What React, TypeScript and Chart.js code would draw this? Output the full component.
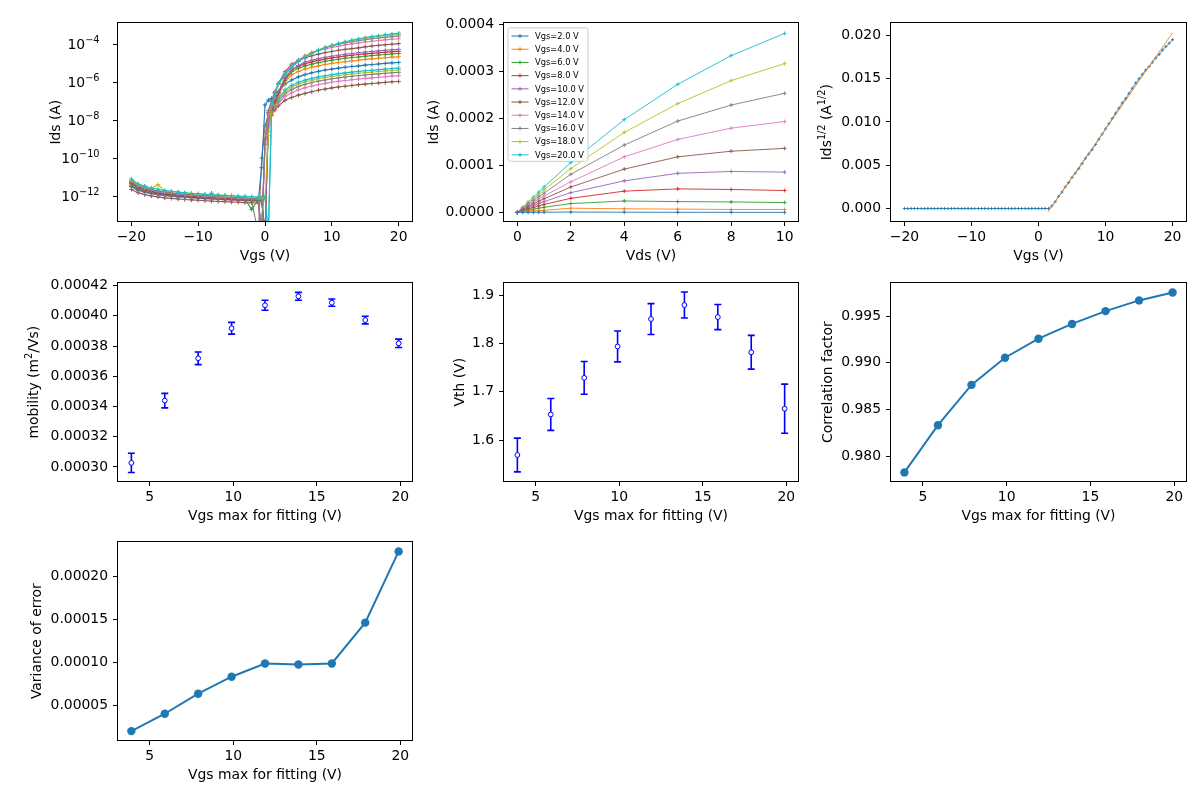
import { useEffect, useRef } from "react";
import { Chart, registerables } from "chart.js";

Chart.register(...registerables);

const FAMILY = "'DejaVu Sans', sans-serif";
const FS = 13.9;

// tab10 palette
const C_BLUE = "#1f77b4";
const C_ORANGE = "#ff7f0e";
const C_GREEN = "#2ca02c";
const C_RED = "#d62728";
const C_PURPLE = "#9467bd";
const C_BROWN = "#8c564b";
const C_PINK = "#e377c2";
const C_GRAY = "#7f7f7f";
const C_OLIVE = "#bcbd22";
const C_CYAN = "#17becf";

// ---------- Transfer curves: log10(Ids / A) versus Vgs ----------
const VGS_TRANSFER = [
  -20, -19, -18, -17, -16, -15, -14, -13, -12, -11,
  -10, -9, -8, -7, -6, -5, -4, -3, -2, -1,
  -0.5, 0, 0.5, 1, 1.5,
  2, 3, 4, 5, 6, 7, 8, 9, 10, 11, 12, 13, 14, 15, 16, 17, 18, 19, 20,
];

const LOG_IDS_VDS10 = [
  -11.10, -11.36, -11.47, -11.58, -11.64, -11.71, -11.74, -11.79, -11.82, -11.86,
  -11.87, -11.91, -11.92, -11.95, -11.96, -11.98, -12.00, -12.01, -12.03, -12.05,
  -12.08, -12.05, -14.0, -7.2, -6.6,
  -6.1, -5.6, -5.2, -4.91, -4.68, -4.49, -4.33, -4.19, -4.07, -3.96, -3.87, -3.79, -3.71, -3.65, -3.60, -3.55, -3.50, -3.46, -3.42,
];
const LOG_IDS_VDS8 = [
  -11.15, -11.38, -11.50, -11.57, -11.40, -11.72, -11.76, -11.78, -11.84, -11.85,
  -11.89, -11.90, -11.94, -11.93, -11.98, -11.99, -12.02, -12.03, -12.04, -12.07,
  -12.10, -12.10, -8.8, -7.2, -6.6,
  -6.1, -5.6, -5.2, -4.9, -4.65, -4.46, -4.31, -4.18, -4.06, -3.97, -3.89, -3.82, -3.75, -3.69, -3.64, -3.59, -3.55, -3.51, -3.48,
];
const LOG_IDS_VDS6 = [
  -11.20, -11.42, -11.55, -11.66, -11.73, -11.77, -11.83, -11.86, -11.90, -11.92,
  -11.96, -11.97, -12.00, -12.02, -12.03, -12.06, -12.07, -12.09, -12.12, -12.15,
  -14.0, -9.0, -7.5, -7.0, -6.55,
  -6.1, -5.58, -5.15, -4.86, -4.64, -4.45, -4.30, -4.18, -4.08, -4.00, -3.93, -3.87, -3.81, -3.76, -3.71, -3.67, -3.64, -3.60, -3.57,
];
const LOG_IDS_VDS4 = [
  -11.22, -11.45, -11.58, -11.67, -11.75, -11.79, -11.85, -11.88, -11.92, -11.95,
  -11.97, -12.00, -12.02, -12.05, -12.06, -12.08, -12.10, -12.12, -12.13, -12.15,
  -14.0, -9.5, -7.7, -7.1, -6.55,
  -6.1, -5.55, -5.11, -4.83, -4.61, -4.46, -4.34, -4.25, -4.17, -4.10, -4.04, -3.98, -3.93, -3.88, -3.84, -3.80, -3.77, -3.74, -3.71,
];
const LOG_IDS_VDS2 = [
  -11.30, -11.55, -11.68, -11.76, -11.85, -11.90, -11.93, -11.98, -12.01, -12.05,
  -12.07, -12.10, -12.12, -12.14, -12.17, -12.18, -12.20, -12.22, -12.23, -12.26,
  -14.0, -9.2, -7.6, -7.0, -6.5,
  -6.05, -5.45, -5.05, -4.86, -4.73, -4.61, -4.52, -4.44, -4.38, -4.32, -4.27, -4.23, -4.19, -4.14, -4.09, -4.06, -4.03, -4.00, -3.97,
];
const LOG_IDS_VDS1 = [
  -11.25, -11.48, -11.60, -11.70, -11.77, -11.82, -11.86, -11.90, -11.93, -11.96,
  -11.99, -12.01, -12.03, -12.05, -12.07, -12.09, -12.10, -12.12, -12.14, -12.16,
  -12.18, -14.0, -8.0, -7.3, -6.9,
  -6.5, -5.75, -5.35, -5.12, -4.94, -4.84, -4.76, -4.69, -4.63, -4.58, -4.53, -4.49, -4.45, -4.41, -4.38, -4.35, -4.32, -4.29, -4.27,
];
const LOG_IDS_VDS08 = [
  -11.30, -11.52, -11.63, -11.72, -11.80, -11.84, -11.88, -11.92, -11.95, -11.98,
  -12.01, -12.03, -12.06, -12.07, -12.09, -12.11, -12.12, -12.14, -12.16, -12.18,
  -12.20, -14.0, -8.1, -7.4, -6.95,
  -6.55, -5.8, -5.34, -5.16, -5.03, -4.93, -4.85, -4.78, -4.72, -4.67, -4.62, -4.58, -4.54, -4.51, -4.48, -4.45, -4.42, -4.39, -4.37,
];
const LOG_IDS_VDS06 = [
  -11.32, -11.53, -11.66, -11.74, -11.81, -11.86, -11.90, -11.93, -11.96, -12.00,
  -12.02, -12.05, -11.85, -12.09, -12.10, -12.13, -12.14, -12.15, -12.70, -12.19,
  -12.20, -14.0, -8.2, -7.5, -7.0,
  -6.6, -5.9, -5.44, -5.27, -5.14, -5.05, -4.97, -4.90, -4.84, -4.79, -4.74, -4.70, -4.67, -4.63, -4.60, -4.57, -4.54, -4.51, -4.49,
];
const LOG_IDS_VDS04 = [
  -11.35, -11.56, -11.68, -11.77, -11.83, -11.88, -11.92, -11.95, -11.98, -12.01,
  -12.04, -12.06, -12.08, -12.10, -12.12, -12.14, -12.15, -12.17, -12.19, -12.20,
  -12.22, -14.0, -8.3, -7.6, -7.1,
  -6.7, -6.0, -5.6, -5.44, -5.31, -5.21, -5.14, -5.07, -5.01, -4.96, -4.92, -4.88, -4.84, -4.80, -4.77, -4.74, -4.71, -4.68, -4.66,
];
const LOG_IDS_VDS02 = [
  -11.45, -11.65, -11.76, -11.84, -11.90, -11.94, -11.98, -12.01, -12.03, -12.06,
  -12.08, -12.10, -12.12, -12.14, -12.15, -12.17, -12.18, -12.20, -12.21, -12.22,
  -10.5, -7.2, -6.95, -6.85, -6.7,
  -6.5, -6.1, -5.88, -5.72, -5.60, -5.50, -5.43, -5.36, -5.31, -5.26, -5.21, -5.17, -5.14, -5.10, -5.07, -5.04, -5.01, -4.98, -4.96,
];
const LOG_IDS_VDS01 = [
  -11.28, -11.50, -11.62, -11.71, -11.78, -11.83, -11.87, -11.90, -11.93, -11.96,
  -11.99, -12.01, -12.03, -12.05, -12.06, -12.08, -12.10, -12.11, -12.13, -12.14,
  -12.15, -12.10, -14.0, -7.5, -7.1,
  -6.85, -6.4, -6.16, -6.0, -5.89, -5.80, -5.72, -5.66, -5.60, -5.55, -5.51, -5.47, -5.43, -5.40, -5.37, -5.34, -5.31, -5.28, -5.26,
];
const LOG_IDS_VDS008 = [
  -11.40, -11.60, -11.72, -11.80, -11.86, -11.90, -11.94, -11.97, -12.00, -12.03,
  -12.05, -12.07, -12.09, -12.11, -12.13, -12.14, -12.16, -12.17, -12.19, -12.21,
  -12.22, -14.0, -8.6, -7.55, -7.15,
  -6.9, -6.5, -6.26, -6.10, -5.99, -5.90, -5.82, -5.76, -5.70, -5.65, -5.61, -5.57, -5.53, -5.50, -5.47, -5.44, -5.41, -5.38, -5.36,
];
const LOG_IDS_VDS006 = [
  -11.50, -11.68, -11.79, -11.86, -11.92, -11.96, -12.00, -12.03, -12.06, -12.08,
  -12.10, -12.13, -12.14, -12.16, -12.18, -12.19, -12.21, -12.22, -12.24, -14.0,
  -10.0, -8.3, -7.7, -7.5, -7.25,
  -7.0, -6.6, -6.38, -6.22, -6.11, -6.02, -5.94, -5.88, -5.82, -5.77, -5.73, -5.69, -5.65, -5.62, -5.59, -5.56, -5.53, -5.50, -5.48,
];
const LOG_IDS_VDS004 = [
  -11.52, -11.70, -11.80, -11.88, -11.93, -11.98, -12.02, -12.05, -12.07, -12.10,
  -12.12, -12.14, -12.16, -12.18, -12.20, -12.21, -12.23, -12.24, -12.26, -12.28,
  -14.0, -9.0, -8.0, -7.6, -7.3,
  -7.1, -6.75, -6.56, -6.40, -6.29, -6.20, -6.12, -6.06, -6.00, -5.95, -5.91, -5.87, -5.83, -5.80, -5.77, -5.74, -5.71, -5.68, -5.66,
];
const LOG_IDS_VDS002 = [
  -11.65, -11.82, -11.92, -11.99, -12.04, -12.09, -12.12, -12.15, -12.18, -12.20,
  -12.22, -12.24, -12.26, -12.28, -12.29, -12.31, -12.32, -12.34, -12.35, -12.37,
  -14.0, -9.3, -8.2, -7.75, -7.45,
  -7.25, -6.95, -6.8, -6.68, -6.59, -6.50, -6.42, -6.36, -6.30, -6.25, -6.21, -6.17, -6.13, -6.10, -6.07, -6.04, -6.01, -5.98, -5.96,
];

const TRANSFER_SERIES = [
  { color: C_CYAN, log: LOG_IDS_VDS10 },
  { color: C_OLIVE, log: LOG_IDS_VDS8 },
  { color: C_GRAY, log: LOG_IDS_VDS6 },
  { color: C_PINK, log: LOG_IDS_VDS4 },
  { color: C_BROWN, log: LOG_IDS_VDS2 },
  { color: C_PURPLE, log: LOG_IDS_VDS1 },
  { color: C_RED, log: LOG_IDS_VDS08 },
  { color: C_GREEN, log: LOG_IDS_VDS06 },
  { color: C_ORANGE, log: LOG_IDS_VDS04 },
  { color: C_BLUE, log: LOG_IDS_VDS02 },
  { color: C_CYAN, log: LOG_IDS_VDS01 },
  { color: C_OLIVE, log: LOG_IDS_VDS008 },
  { color: C_GRAY, log: LOG_IDS_VDS006 },
  { color: C_PINK, log: LOG_IDS_VDS004 },
  { color: C_BROWN, log: LOG_IDS_VDS002 },
];

// ---------- Output curves: Ids (A) versus Vds ----------
const VDS_OUTPUT = [0, 0.2, 0.4, 0.6, 0.8, 1.0, 2, 4, 6, 8, 10];
const IDS_VGS2 = [0, 1e-7, 2e-7, 3e-7, 4e-7, 5e-7, 8e-7, 5e-7, 3e-7, 2e-7, 1e-7];
const IDS_VGS4 = [0, 1.3e-6, 2.5e-6, 3.3e-6, 4.0e-6, 4.5e-6, 9.0e-6, 7.7e-6, 7.0e-6, 6.3e-6, 6.3e-6];
const IDS_VGS6 = [0, 2.5e-6, 4.9e-6, 7.0e-6, 9.0e-6, 1.1e-5, 1.88e-5, 2.43e-5, 2.30e-5, 2.23e-5, 2.09e-5];
const IDS_VGS8 = [0, 3.7e-6, 7.3e-6, 1.07e-5, 1.4e-5, 1.7e-5, 3.0e-5, 4.52e-5, 5.0e-5, 4.87e-5, 4.66e-5];
const IDS_VGS10 = [0, 4.9e-6, 9.7e-6, 1.44e-5, 1.9e-5, 2.3e-5, 4.2e-5, 6.7e-5, 8.3e-5, 8.7e-5, 8.56e-5];
const IDS_VGS12 = [0, 6.1e-6, 1.21e-5, 1.8e-5, 2.38e-5, 2.9e-5, 5.4e-5, 9.2e-5, 1.18e-4, 1.30e-4, 1.36e-4];
const IDS_VGS14 = [0, 7.3e-6, 1.45e-5, 2.16e-5, 2.86e-5, 3.5e-5, 6.5e-5, 1.18e-4, 1.55e-4, 1.79e-4, 1.93e-4];
const IDS_VGS16 = [0, 8.5e-6, 1.69e-5, 2.52e-5, 3.34e-5, 4.1e-5, 8.1e-5, 1.43e-4, 1.94e-4, 2.28e-4, 2.53e-4];
const IDS_VGS18 = [0, 9.7e-6, 1.93e-5, 2.88e-5, 3.82e-5, 4.8e-5, 9.3e-5, 1.70e-4, 2.31e-4, 2.80e-4, 3.16e-4];
const IDS_VGS20 = [0, 1.1e-5, 2.17e-5, 3.24e-5, 4.3e-5, 5.4e-5, 1.06e-4, 1.97e-4, 2.72e-4, 3.33e-4, 3.80e-4];

const OUTPUT_LABELS = [
  "Vgs=2.0 V", "Vgs=4.0 V", "Vgs=6.0 V", "Vgs=8.0 V", "Vgs=10.0 V",
  "Vgs=12.0 V", "Vgs=14.0 V", "Vgs=16.0 V", "Vgs=18.0 V", "Vgs=20.0 V",
];
const OUTPUT_VALUES = [
  IDS_VGS2, IDS_VGS4, IDS_VGS6, IDS_VGS8, IDS_VGS10,
  IDS_VGS12, IDS_VGS14, IDS_VGS16, IDS_VGS18, IDS_VGS20,
];
const OUTPUT_COLORS = [
  C_BLUE, C_ORANGE, C_GREEN, C_RED, C_PURPLE, C_BROWN, C_PINK, C_GRAY, C_OLIVE, C_CYAN,
];

// ---------- sqrt(Ids) versus Vgs with linear fit ----------
const VGS_SQRT = [
  -20, -19.5, -19, -18.5, -18, -17.5, -17, -16.5, -16, -15.5,
  -15, -14.5, -14, -13.5, -13, -12.5, -12, -11.5, -11, -10.5,
  -10, -9.5, -9, -8.5, -8, -7.5, -7, -6.5, -6, -5.5,
  -5, -4.5, -4, -3.5, -3, -2.5, -2, -1.5, -1, -0.5,
  0, 0.5, 1, 1.5,
  2, 2.5, 3, 3.5, 4, 4.5, 5, 5.5, 6, 6.5,
  7, 7.5, 8, 8.5, 9, 9.5, 10, 10.5, 11, 11.5,
  12, 12.5, 13, 13.5, 14, 14.5, 15, 15.5, 16, 16.5,
  17, 17.5, 18, 18.5, 19, 19.5, 20,
];
const SQRT_IDS = [
  0, 0, 0, 0, 0, 0, 0, 0, 0, 0,
  0, 0, 0, 0, 0, 0, 0, 0, 0, 0,
  0, 0, 0, 0, 0, 0, 0, 0, 0, 0,
  0, 0, 0, 0, 0, 0, 0, 0, 0, 0,
  0, 0, 0, 0,
  0.0003, 0.0008, 0.0014, 0.0019, 0.0025, 0.0030, 0.0036, 0.0041, 0.0046, 0.0052,
  0.0058, 0.0063, 0.0068, 0.0074, 0.0080, 0.0086, 0.0092, 0.0098, 0.0104, 0.0110,
  0.0116, 0.0122, 0.0127, 0.0133, 0.0139, 0.0145, 0.0150, 0.0155, 0.0160, 0.0164,
  0.0169, 0.0174, 0.0178, 0.0183, 0.0187, 0.0191, 0.0195,
];
const FIT_LINE_VGS = [1.4, 20];
const FIT_LINE_SQRT = [-0.0004, 0.0203];

// ---------- Fit results versus the upper Vgs limit of the fit ----------
const VGS_FIT_MAX = [3.9, 5.9, 7.9, 9.9, 11.9, 13.9, 15.9, 17.9, 19.9];
const MOBILITY = [0.0003027, 0.0003439, 0.0003719, 0.0003918, 0.000407, 0.0004129, 0.0004087, 0.0003972, 0.0003818];
const MOBILITY_ERR = [0.0000064, 0.0000048, 0.0000042, 0.0000039, 0.0000033, 0.0000026, 0.0000024, 0.0000025, 0.0000028];
const VTH = [1.569, 1.653, 1.729, 1.794, 1.851, 1.880, 1.855, 1.782, 1.665];
const VTH_ERR = [0.035, 0.033, 0.034, 0.032, 0.032, 0.027, 0.026, 0.035, 0.051];
const CORRELATION = [0.97825, 0.98331, 0.98763, 0.99054, 0.99258, 0.99416, 0.99553, 0.99668, 0.99753];
const ERROR_VARIANCE = [0.0000204, 0.0000405, 0.0000637, 0.0000834, 0.0000987, 0.0000976, 0.0000987, 0.000146, 0.0002285];

// ---------- Tick values ----------
const TICKS_VGS = [-20, -10, 0, 10, 20];
const TICKS_IDS_LOG = [1e-12, 1e-10, 1e-8, 1e-6, 1e-4];
const TICKS_VDS = [0, 2, 4, 6, 8, 10];
const TICKS_IDS_LIN = [0, 0.0001, 0.0002, 0.0003, 0.0004];
const TICKS_SQRT = [0, 0.005, 0.01, 0.015, 0.02];
const TICKS_FIT_MAX = [5, 10, 15, 20];
const TICKS_MOBILITY = [0.0003, 0.00032, 0.00034, 0.00036, 0.00038, 0.0004, 0.00042];
const TICKS_VTH = [1.6, 1.7, 1.8, 1.9];
const TICKS_CORR = [0.98, 0.985, 0.99, 0.995];
const TICKS_VARIANCE = [0.00005, 0.0001, 0.00015, 0.0002];

// ---------- drawing helpers ----------
type Seg = { t: string; sup?: boolean };

function drawRich(ctx: CanvasRenderingContext2D, segs: Seg[], x: number, y: number, size: number, rotate: boolean, align: "center" | "right") {
  const supSize = size * 0.7;
  const widths = segs.map((s) => {
    ctx.font = `${s.sup ? supSize : size}px ${FAMILY}`;
    return ctx.measureText(s.t).width;
  });
  const total = widths.reduce((a, b) => a + b, 0);
  ctx.save();
  ctx.translate(x, y);
  if (rotate) ctx.rotate(-Math.PI / 2);
  ctx.fillStyle = "#000";
  ctx.textAlign = "left";
  ctx.textBaseline = "alphabetic";
  let cx = align === "right" ? -total : -total / 2;
  const base = size * 0.36;
  segs.forEach((s, i) => {
    ctx.font = `${s.sup ? supSize : size}px ${FAMILY}`;
    ctx.fillText(s.t, cx, s.sup ? base - size * 0.42 : base);
    cx += widths[i];
  });
  ctx.restore();
}

function minusText(v: number) {
  return String(v).replace("-", "\u2212");
}

const framePlugin = {
  id: "frame",
  afterDraw(chart: any) {
    const { ctx, chartArea: a } = chart;
    ctx.save();
    ctx.strokeStyle = "#000";
    ctx.lineWidth = 1;
    ctx.strokeRect(Math.round(a.left) - 0.5, Math.round(a.top) - 0.5, Math.round(a.right - a.left) + 1, Math.round(a.bottom - a.top) + 1);
    ctx.restore();
  },
};

function yTitlePlugin(segs: Seg[], gap: number) {
  return {
    id: "yTitle",
    afterDraw(chart: any) {
      const a = chart.chartArea;
      drawRich(chart.ctx, segs, a.left - gap, (a.top + a.bottom) / 2, FS, true, "center");
    },
  };
}

const logTickLabelPlugin = {
  id: "logTickLabels",
  afterDraw(chart: any) {
    const y = chart.scales.y;
    const a = chart.chartArea;
    y.ticks.forEach((t: any) => {
      const p = y.getPixelForValue(t.value);
      const e = Math.round(Math.log10(t.value));
      drawRich(chart.ctx, [{ t: "10" }, { t: String(e).replace("-", "\u2212"), sup: true }], a.left - 18.5, p, FS, false, "right");
    });
  },
};

function errorBarPlugin(xs: number[], ys: number[], es: number[], color: string) {
  return {
    id: "errorBars",
    beforeDatasetsDraw(chart: any) {
      const { ctx } = chart;
      const sx = chart.scales.x;
      const sy = chart.scales.y;
      ctx.save();
      ctx.strokeStyle = color;
      ctx.lineWidth = 1.6;
      xs.forEach((xv, i) => {
        const px = sx.getPixelForValue(xv);
        const top = sy.getPixelForValue(ys[i] + es[i]);
        const bot = sy.getPixelForValue(ys[i] - es[i]);
        ctx.beginPath();
        ctx.moveTo(px, top);
        ctx.lineTo(px, bot);
        ctx.moveTo(px - 3.5, top);
        ctx.lineTo(px + 3.5, top);
        ctx.moveTo(px - 3.5, bot);
        ctx.lineTo(px + 3.5, bot);
        ctx.stroke();
      });
      ctx.restore();
    },
  };
}

const legendPlugin = {
  id: "boxLegend",
  afterDatasetsDraw(chart: any) {
    const { ctx } = chart;
    const a = chart.chartArea;
    const ds = chart.data.datasets;
    const bx = a.left + 4;
    const by = a.top + 4.5;
    const bw = 80;
    const rowH = 13.2;
    const bh = ds.length * rowH + 1.5;
    ctx.save();
    ctx.beginPath();
    const r = 2.5;
    ctx.moveTo(bx + r, by);
    ctx.lineTo(bx + bw - r, by);
    ctx.quadraticCurveTo(bx + bw, by, bx + bw, by + r);
    ctx.lineTo(bx + bw, by + bh - r);
    ctx.quadraticCurveTo(bx + bw, by + bh, bx + bw - r, by + bh);
    ctx.lineTo(bx + r, by + bh);
    ctx.quadraticCurveTo(bx, by + bh, bx, by + bh - r);
    ctx.lineTo(bx, by + r);
    ctx.quadraticCurveTo(bx, by, bx + r, by);
    ctx.closePath();
    ctx.fillStyle = "rgba(255,255,255,0.8)";
    ctx.fill();
    ctx.strokeStyle = "#cccccc";
    ctx.lineWidth = 1;
    ctx.stroke();
    ds.forEach((d: any, i: number) => {
      const cy = by + 8.2 + i * rowH;
      const x0 = a.left + 7.5;
      const x1 = a.left + 24.5;
      ctx.strokeStyle = d.borderColor;
      ctx.lineWidth = 1;
      ctx.beginPath();
      ctx.moveTo(x0, cy);
      ctx.lineTo(x1, cy);
      const mx = (x0 + x1) / 2;
      ctx.moveTo(mx - 2, cy);
      ctx.lineTo(mx + 2, cy);
      ctx.moveTo(mx, cy - 2);
      ctx.lineTo(mx, cy + 2);
      ctx.stroke();
      ctx.fillStyle = "#000";
      ctx.font = `8.3px ${FAMILY}`;
      ctx.textBaseline = "middle";
      ctx.textAlign = "left";
      ctx.fillText(d.label, a.left + 31, cy + 0.5);
    });
    ctx.restore();
  },
};

// ---------- panel configuration ----------
type PanelSpec = {
  box: [number, number, number, number];
  xRange: [number, number];
  yRange: [number, number];
  xTicks: number[];
  yTicks: number[];
  xFmt: (v: number) => string;
  yFmt: (v: number) => string;
  yLog?: boolean;
  xTitle: string;
  yTitle: Seg[];
  yTitleGap: number;
  datasets: any[];
  plugins?: any[];
};

const AXIS_W = 100;
const AXIS_H = 44;
const PAD_T = 10;
const PAD_R = 10;

function buildConfig(p: PanelSpec): any {
  const font = { family: FAMILY, size: FS };
  const grid = { display: true, drawOnChartArea: false, drawTicks: true, tickLength: 5, color: "#000", lineWidth: 1 };
  return {
    type: "scatter",
    data: { datasets: p.datasets },
    options: {
      animation: false,
      responsive: false,
      maintainAspectRatio: false,
      devicePixelRatio: 1,
      events: [],
      layout: { padding: { top: PAD_T, right: PAD_R, left: 0, bottom: 0 } },
      plugins: { legend: { display: false }, tooltip: { enabled: false } },
      scales: {
        x: {
          type: "linear",
          min: p.xRange[0],
          max: p.xRange[1],
          afterFit: (s: any) => { s.height = AXIS_H; },
          afterBuildTicks: (s: any) => { s.ticks = p.xTicks.map((v) => ({ value: v })); },
          ticks: { callback: (v: any) => p.xFmt(Number(v)), color: "#000", font, padding: 3.5, maxRotation: 0, minRotation: 0, autoSkip: false },
          grid,
          border: { display: false },
          title: { display: true, text: p.xTitle, color: "#000", font, padding: 0 },
        },
        y: {
          type: p.yLog ? "logarithmic" : "linear",
          min: p.yRange[0],
          max: p.yRange[1],
          afterFit: (s: any) => { s.width = AXIS_W; },
          afterBuildTicks: (s: any) => { s.ticks = p.yTicks.map((v) => ({ value: v })); },
          ticks: { callback: (v: any) => p.yFmt(Number(v)), color: "#000", font, padding: 5, autoSkip: false },
          grid,
          border: { display: false },
        },
      },
    },
    plugins: [framePlugin, yTitlePlugin(p.yTitle, p.yTitleGap), ...(p.plugins || [])],
  };
}

function pairs(xs: number[], ys: number[]) {
  return xs.map((x, i) => ({ x, y: ys[i] }));
}

const transferDatasets = TRANSFER_SERIES.map((s) => ({
  data: VGS_TRANSFER.map((x, i) => ({ x, y: Math.pow(10, s.log[i]) })),
  showLine: true,
  borderColor: s.color,
  backgroundColor: s.color,
  borderWidth: 1.1,
  pointStyle: "cross",
  pointRadius: 2.2,
  pointBorderWidth: 1,
  pointBorderColor: s.color,
}));

const outputDatasets = OUTPUT_VALUES.map((vals, i) => ({
  label: OUTPUT_LABELS[i],
  data: pairs(VDS_OUTPUT, vals),
  showLine: true,
  borderColor: OUTPUT_COLORS[i],
  backgroundColor: OUTPUT_COLORS[i],
  borderWidth: 0.9,
  pointStyle: "cross",
  pointRadius: 2,
  pointBorderWidth: 0.9,
  pointBorderColor: OUTPUT_COLORS[i],
}));

const sqrtDatasets = [
  {
    data: pairs(FIT_LINE_VGS, FIT_LINE_SQRT),
    showLine: true,
    borderColor: C_ORANGE,
    borderWidth: 0.9,
    pointRadius: 0,
  },
  {
    data: pairs(VGS_SQRT, SQRT_IDS),
    showLine: true,
    borderColor: "rgba(31,119,180,0.75)",
    borderWidth: 1,
    pointStyle: "cross",
    pointRadius: 1.6,
    pointBorderWidth: 1,
    pointBorderColor: "rgba(31,119,180,0.85)",
  },
];

function errorMarkers(ys: number[]) {
  return [{
    data: pairs(VGS_FIT_MAX, ys),
    showLine: false,
    pointStyle: "circle",
    pointRadius: 2.4,
    pointBorderWidth: 1,
    pointBorderColor: "#0000ff",
    pointBackgroundColor: "#ffffff",
  }];
}

function lineMarkers(ys: number[]) {
  return [{
    data: pairs(VGS_FIT_MAX, ys),
    showLine: true,
    borderColor: C_BLUE,
    borderWidth: 2,
    pointStyle: "circle",
    pointRadius: 4.2,
    pointBorderWidth: 0,
    pointBackgroundColor: C_BLUE,
  }];
}

const vgsFmt = (v: number) => minusText(v);
const intFmt = (v: number) => String(v);
const fitRange: [number, number] = [3.1, 20.7];

const PANELS: PanelSpec[] = [
  {
    box: [118, 20, 412, 221],
    xRange: [-22, 22], yRange: [Math.pow(10, -13.31), Math.pow(10, -2.9)],
    xTicks: TICKS_VGS, yTicks: TICKS_IDS_LOG, xFmt: vgsFmt, yFmt: () => "", yLog: true,
    xTitle: "Vgs (V)", yTitle: [{ t: "Ids (A)" }], yTitleGap: 63,
    datasets: transferDatasets, plugins: [logTickLabelPlugin],
  },
  {
    box: [504, 20, 798, 221],
    xRange: [-0.5, 10.5], yRange: [-0.0000182, 0.0004015],
    xTicks: TICKS_VDS, yTicks: TICKS_IDS_LIN, xFmt: intFmt, yFmt: (v) => v.toFixed(4),
    xTitle: "Vds (V)", yTitle: [{ t: "Ids (A)" }], yTitleGap: 71,
    datasets: outputDatasets, plugins: [legendPlugin],
  },
  {
    box: [891, 20, 1186, 221],
    xRange: [-22, 22], yRange: [-0.00144, 0.02139],
    xTicks: TICKS_VGS, yTicks: TICKS_SQRT, xFmt: vgsFmt, yFmt: (v) => v.toFixed(3),
    xTitle: "Vgs (V)",
    yTitle: [{ t: "Ids" }, { t: "1/2", sup: true }, { t: " (A" }, { t: "1/2", sup: true }, { t: ")" }],
    yTitleGap: 65,
    datasets: sqrtDatasets,
  },
  {
    box: [118, 280, 412, 481],
    xRange: fitRange, yRange: [0.0002907, 0.0004215],
    xTicks: TICKS_FIT_MAX, yTicks: TICKS_MOBILITY, xFmt: intFmt, yFmt: (v) => v.toFixed(5),
    xTitle: "Vgs max for fitting (V)",
    yTitle: [{ t: "mobility (m" }, { t: "2", sup: true }, { t: "/Vs)" }],
    yTitleGap: 85,
    datasets: errorMarkers(MOBILITY), plugins: [errorBarPlugin(VGS_FIT_MAX, MOBILITY, MOBILITY_ERR, "#0000ff")],
  },
  {
    box: [504, 280, 798, 481],
    xRange: fitRange, yRange: [1.515, 1.925],
    xTicks: TICKS_FIT_MAX, yTicks: TICKS_VTH, xFmt: intFmt, yFmt: (v) => v.toFixed(1),
    xTitle: "Vgs max for fitting (V)", yTitle: [{ t: "Vth (V)" }], yTitleGap: 45,
    datasets: errorMarkers(VTH), plugins: [errorBarPlugin(VGS_FIT_MAX, VTH, VTH_ERR, "#0000ff")],
  },
  {
    box: [891, 280, 1186, 481],
    xRange: fitRange, yRange: [0.97733, 0.99851],
    xTicks: TICKS_FIT_MAX, yTicks: TICKS_CORR, xFmt: intFmt, yFmt: (v) => v.toFixed(3),
    xTitle: "Vgs max for fitting (V)", yTitle: [{ t: "Correlation factor" }], yTitleGap: 64,
    datasets: lineMarkers(CORRELATION),
  },
  {
    box: [118, 539, 412, 740],
    xRange: fitRange, yRange: [0.0000101, 0.000239],
    xTicks: TICKS_FIT_MAX, yTicks: TICKS_VARIANCE, xFmt: intFmt, yFmt: (v) => v.toFixed(5),
    xTitle: "Vgs max for fitting (V)", yTitle: [{ t: "Variance of error" }], yTitleGap: 82,
    datasets: lineMarkers(ERROR_VARIANCE),
  },
];

function Panel({ spec }: { spec: PanelSpec }) {
  const ref = useRef<HTMLCanvasElement>(null);
  const [l, t, r, b] = spec.box;
  const w = r - l + AXIS_W + PAD_R;
  const h = b - t + PAD_T + AXIS_H;
  useEffect(() => {
    const chart = new Chart(ref.current as HTMLCanvasElement, buildConfig(spec));
    return () => chart.destroy();
  }, [spec]);
  return (
    <canvas
      ref={ref}
      width={w}
      height={h}
      style={{ position: "absolute", left: l - AXIS_W, top: t - PAD_T, width: w, height: h }}
    />
  );
}

export default function App() {
  return (
    <div style={{ position: "absolute", left: 0, top: 0, width: 1200, height: 798, background: "#ffffff", overflow: "hidden" }}>
      {PANELS.map((p, i) => (
        <Panel key={i} spec={p} />
      ))}
    </div>
  );
}
